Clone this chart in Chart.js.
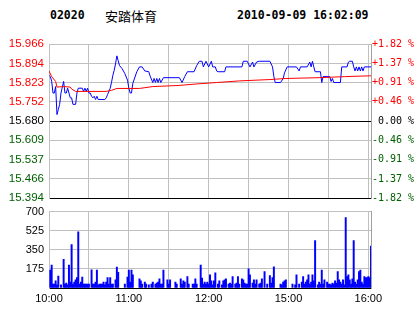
<!DOCTYPE html>
<html>
<head>
<meta charset="utf-8">
<script src="https://cdn.jsdelivr.net/npm/chart.js@4.4.0/dist/chart.umd.min.js"></script>
<style>
  body { margin: 0; background: #fff; }
  #wrap { position: relative; width: 414px; height: 314px; overflow: hidden; background: #fff; }
  .hd { position: absolute; line-height: 16px; white-space: nowrap; color: #000; }
  .mono { font: bold 11.5px "DejaVu Sans Mono", monospace; top: 8px; }
  .name { font: 13px "Noto Sans CJK SC", sans-serif; top: 6px; left: 105px; }
  #priceChart { position: absolute; left: 0; top: 0; }
  #volChart { position: absolute; left: 0; top: 200px; }
</style>
</head>
<body>
<div id="wrap">
  <div class="hd mono" style="left:50px">02020</div>
  <div class="hd name">安踏体育</div>
  <div class="hd mono" style="left:237px">2010-09-09 16:02:09</div>
  <canvas id="priceChart" width="414" height="210"></canvas>
  <canvas id="volChart" width="414" height="114"></canvas>
</div>
<script>
// minutes since 10:00 (HK session, lunch break removed)
var priceTimes = [0, 1, 2, 3, 4, 5, 6, 7, 8, 9, 11, 12, 13, 14, 15, 16, 17, 18, 20, 21, 22, 25, 26, 27, 28, 29, 30, 31, 32, 33, 34, 35, 36, 37, 42, 43, 44, 46, 47, 48, 49, 50, 51, 52, 53, 55, 57, 59, 60, 61, 62, 63, 66, 68, 70, 72, 75, 76, 78, 79, 80, 81, 82, 83, 84, 86, 98, 100, 102, 104, 109, 111, 113, 115, 116, 118, 120, 122, 123, 125, 126, 127, 132, 133, 145, 146, 149, 151, 153, 154, 156, 158, 166, 168, 169, 170, 174, 176, 177, 179, 186, 188, 189, 194, 196, 197, 198, 199, 200, 204, 205, 206, 211, 212, 213, 214, 219, 220, 224, 225, 226, 228, 229, 230, 231, 232, 233, 234, 235, 236, 237, 242];
var prices = [15.850, 15.845, 15.828, 15.784, 15.784, 15.808, 15.704, 15.723, 15.742, 15.784, 15.827, 15.784, 15.784, 15.802, 15.784, 15.766, 15.766, 15.742, 15.742, 15.784, 15.802, 15.802, 15.790, 15.802, 15.790, 15.802, 15.784, 15.784, 15.772, 15.766, 15.772, 15.760, 15.772, 15.760, 15.760, 15.766, 15.778, 15.802, 15.824, 15.850, 15.868, 15.892, 15.922, 15.904, 15.886, 15.874, 15.856, 15.832, 15.802, 15.784, 15.784, 15.820, 15.863, 15.881, 15.881, 15.866, 15.863, 15.847, 15.823, 15.838, 15.823, 15.838, 15.823, 15.838, 15.823, 15.841, 15.841, 15.823, 15.845, 15.863, 15.863, 15.886, 15.902, 15.902, 15.881, 15.902, 15.881, 15.902, 15.881, 15.881, 15.866, 15.863, 15.863, 15.881, 15.881, 15.902, 15.902, 15.881, 15.899, 15.881, 15.899, 15.902, 15.902, 15.881, 15.845, 15.823, 15.823, 15.838, 15.859, 15.881, 15.881, 15.866, 15.881, 15.881, 15.899, 15.881, 15.902, 15.881, 15.863, 15.863, 15.823, 15.845, 15.845, 15.827, 15.838, 15.823, 15.823, 15.881, 15.881, 15.899, 15.902, 15.902, 15.881, 15.866, 15.881, 15.866, 15.881, 15.866, 15.881, 15.866, 15.881, 15.881];

var avgTimes = [0, 2, 5, 6, 11, 16, 17, 20, 43, 47, 51, 68, 78, 97, 112, 126, 143, 166, 178, 203, 223, 242];
var avgPrices = [15.866, 15.845, 15.827, 15.806, 15.808, 15.806, 15.799, 15.790, 15.790, 15.794, 15.801, 15.801, 15.808, 15.812, 15.818, 15.823, 15.829, 15.834, 15.838, 15.841, 15.845, 15.848];

var volTimes = [1, 2, 3, 4, 5, 6, 7, 9, 11, 12, 13, 14, 15, 16, 17, 18, 19, 20, 21, 22, 23, 24, 25, 26, 27, 28, 29, 30, 32, 33, 34, 35, 36, 37, 38, 39, 40, 41, 42, 43, 44, 45, 46, 47, 48, 50, 51, 52, 57, 59, 60, 61, 62, 63, 68, 69, 70, 72, 73, 75, 77, 78, 80, 81, 82, 83, 84, 85, 86, 89, 90, 91, 95, 96, 99, 100, 101, 102, 104, 105, 108, 109, 110, 111, 114, 115, 116, 117, 118, 119, 120, 121, 122, 123, 124, 125, 127, 128, 130, 131, 132, 133, 135, 136, 137, 138, 140, 141, 142, 143, 145, 146, 147, 148, 149, 150, 151, 153, 154, 155, 156, 158, 159, 160, 162, 164, 166, 167, 168, 169, 174, 175, 176, 177, 178, 183, 185, 186, 188, 190, 191, 192, 193, 194, 195, 196, 197, 198, 199, 200, 202, 203, 204, 205, 206, 207, 209, 210, 211, 212, 213, 214, 215, 216, 217, 218, 219, 220, 221, 222, 223, 224, 225, 226, 227, 228, 229, 230, 231, 232, 233, 234, 235, 236, 237, 238, 239, 240, 241, 242];
var volumes = [165, 209, 36, 36, 66, 30, 110, 30, 263, 36, 45, 30, 209, 54, 398, 36, 54, 75, 96, 514, 36, 54, 99, 36, 36, 36, 36, 36, 167, 36, 36, 54, 164, 30, 36, 36, 36, 54, 30, 54, 96, 36, 96, 36, 36, 75, 191, 143, 36, 99, 164, 54, 164, 120, 84, 66, 36, 54, 36, 30, 36, 54, 36, 45, 54, 84, 36, 36, 164, 75, 36, 75, 54, 36, 84, 36, 66, 54, 105, 36, 36, 36, 84, 36, 209, 90, 36, 54, 36, 54, 36, 120, 66, 30, 66, 140, 36, 66, 30, 66, 75, 84, 36, 45, 36, 105, 36, 45, 105, 36, 84, 75, 45, 36, 36, 176, 120, 45, 75, 36, 75, 36, 45, 84, 150, 36, 114, 45, 96, 194, 36, 30, 54, 66, 75, 36, 30, 120, 36, 54, 105, 36, 54, 75, 120, 36, 54, 120, 66, 434, 30, 54, 36, 164, 36, 75, 54, 36, 36, 30, 45, 36, 66, 45, 150, 75, 54, 36, 75, 30, 646, 105, 120, 75, 36, 84, 434, 54, 36, 75, 150, 164, 54, 36, 105, 96, 96, 105, 96, 383];

var priceTicks = ["15.394", "15.466", "15.537", "15.609", "15.680", "15.752", "15.823", "15.894", "15.966"];
var pctTicks = ["-1.82 %", "-1.37 %", "-0.91 %", "-0.46 %", " 0.00 %", "+0.46 %", "+0.91 %", "+1.37 %", "+1.82 %"];
var volTicks = [0, 175, 350, 525, 700];
var gridMinutes = [0, 30, 60, 90, 120, 150, 180, 210, 240];
var timeTicks = [0, 60, 120, 180, 240];
var timeLabels = ["10:00", "11:00", "12:00", "15:00", "16:00"];

var upColor = "#ff0000", downColor = "#006000", gridColor = "#c0c0c0", edgeColor = "#a0a0a0";
var sansFamily = "'Liberation Sans', Arial, sans-serif";

function levelColor(i) {
  if (i < 4) return downColor;
  if (i > 4) return upColor;
  return "#000000";
}

function toPoints(xs, ys) {
  return xs.map(function (x, i) { return { x: x, y: ys[i] }; });
}

function xGrid(scale) {
  scale.ticks = gridMinutes.map(function (v) { return { value: v }; });
}

var priceChart = new Chart(document.getElementById("priceChart"), {
  type: "line",
  data: {
    datasets: [
      {
        data: toPoints(avgTimes, avgPrices),
        borderColor: "#ff0000",
        borderWidth: 1,
        pointRadius: 0,
        tension: 0,
        yAxisID: "y"
      },
      {
        data: toPoints(priceTimes, prices),
        borderColor: "#0000ff",
        borderWidth: 1,
        pointRadius: 0,
        tension: 0,
        yAxisID: "y"
      }
    ]
  },
  options: {
    responsive: false,
    animation: false,
    events: [],
    layout: { padding: { top: 44, bottom: 7 } },
    plugins: { legend: { display: false }, tooltip: { enabled: false } },
    scales: {
      x: {
        type: "linear",
        min: 0,
        max: 242,
        afterBuildTicks: xGrid,
        ticks: { display: false },
        grid: { color: gridColor, drawTicks: false },
        border: { display: false },
        afterFit: function (s) { s.height = 0; }
      },
      y: {
        position: "left",
        min: 15.394,
        max: 15.966,
        afterBuildTicks: function (s) {
          s.ticks = priceTicks.map(function (v) { return { value: parseFloat(v) }; });
        },
        ticks: {
          callback: function (v, i) { return priceTicks[i]; },
          color: function (c) { return levelColor(c.index); },
          font: { family: sansFamily, size: 11.5 },
          padding: 5
        },
        grid: {
          color: function (c) { return (c.index === 0 || c.index === 4) ? "#000000" : gridColor; },
          drawTicks: false
        },
        border: { color: gridColor },
        afterFit: function (s) { s.width = 49; }
      },
      pct: {
        position: "right",
        min: -1.82,
        max: 1.82,
        afterBuildTicks: function (s) {
          s.ticks = pctTicks.map(function (v) { return { value: parseFloat(v) }; });
        },
        ticks: {
          callback: function (v, i) { return pctTicks[i]; },
          color: function (c) { return levelColor(c.index); },
          font: { family: "'DejaVu Sans Mono', monospace", size: 10 },
          padding: 1
        },
        grid: { display: false, drawTicks: false },
        border: { color: edgeColor },
        afterFit: function (s) { s.width = 43; }
      }
    }
  }
});

var volChart = new Chart(document.getElementById("volChart"), {
  type: "bar",
  data: {
    datasets: [
      {
        data: toPoints(volTimes, volumes),
        backgroundColor: "#0000ff",
        borderWidth: 0,
        barThickness: 1.3,
        yAxisID: "y"
      }
    ]
  },
  options: {
    responsive: false,
    animation: false,
    events: [],
    layout: { padding: { top: 10 } },
    plugins: { legend: { display: false }, tooltip: { enabled: false } },
    scales: {
      x: {
        type: "linear",
        min: 0,
        max: 242,
        offset: false,
        afterBuildTicks: xGrid,
        ticks: {
          autoSkip: false,
          maxRotation: 0,
          callback: function (v) {
            var k = timeTicks.indexOf(v);
            return k < 0 ? "" : timeLabels[k];
          },
          color: "#000000",
          font: { family: sansFamily, size: 11 },
          padding: 4
        },
        grid: { color: gridColor, drawTicks: false, offset: false },
        border: { display: false },
        afterFit: function (s) { s.height = 26; }
      },
      y: {
        position: "left",
        min: 0,
        max: 700,
        afterBuildTicks: function (s) {
          s.ticks = volTicks.map(function (v) { return { value: v }; });
        },
        ticks: {
          callback: function (v) { return v === 0 ? "" : String(v); },
          color: "#000000",
          font: { family: sansFamily, size: 11 },
          padding: 5
        },
        grid: {
          color: function (c) { return c.index === 0 ? "#000000" : gridColor; },
          drawTicks: false
        },
        border: { color: gridColor },
        afterFit: function (s) { s.width = 49; }
      },
      edge: {
        position: "right",
        min: 0,
        max: 1,
        ticks: { display: false },
        grid: { display: false, drawTicks: false },
        border: { color: edgeColor },
        afterFit: function (s) { s.width = 43; }
      }
    }
  }
});
</script>
</body>
</html>
